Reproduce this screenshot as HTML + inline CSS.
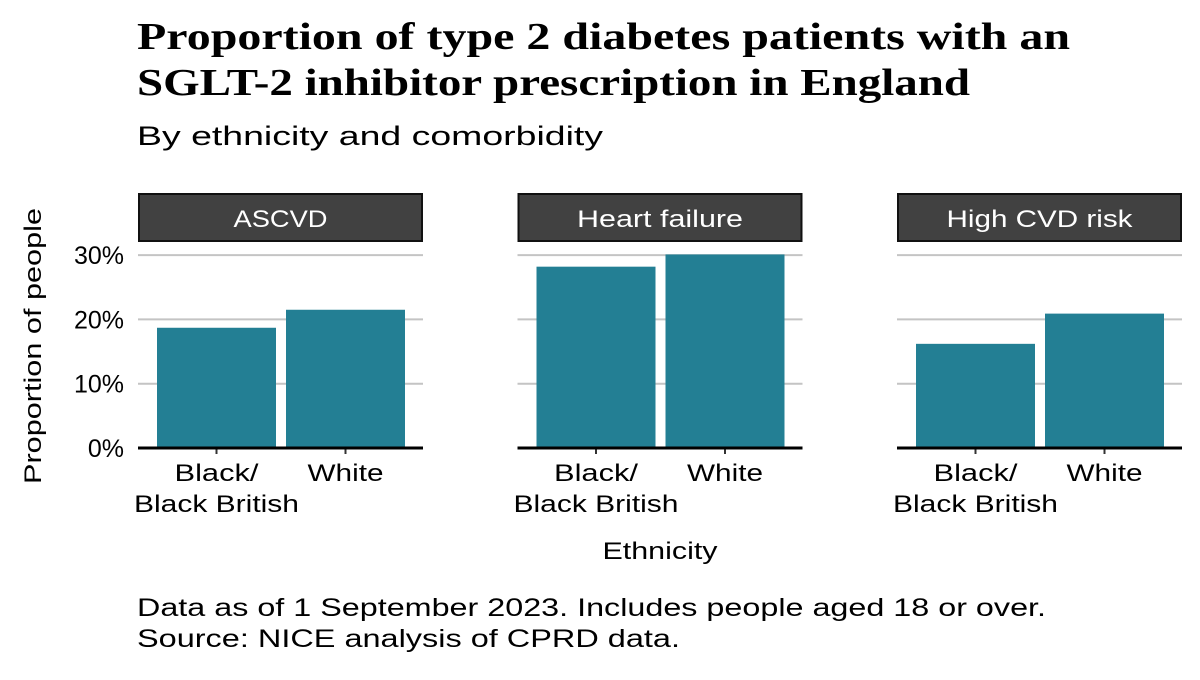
<!DOCTYPE html>
<html><head><meta charset="utf-8"><style>
body{margin:0;background:#fff;width:1200px;height:675px;overflow:hidden}
svg text{font-family:"Liberation Sans",sans-serif}
</style></head><body>
<svg width="1200" height="675">
<text x="137" y="49" font-weight="bold" font-size="38" textLength="933" lengthAdjust="spacingAndGlyphs" style="font-family:'Liberation Serif',serif">Proportion of type 2 diabetes patients with an</text>
<text x="137" y="95" font-weight="bold" font-size="38" textLength="833" lengthAdjust="spacingAndGlyphs" style="font-family:'Liberation Serif',serif">SGLT-2 inhibitor prescription in England</text>
<text x="137" y="145" font-size="27" textLength="466" lengthAdjust="spacingAndGlyphs">By ethnicity and comorbidity</text>
<text transform="translate(41,346) rotate(-90)" text-anchor="middle" font-size="24" textLength="276" lengthAdjust="spacingAndGlyphs">Proportion of people</text>
<text x="660" y="559" text-anchor="middle" font-size="24" textLength="115" lengthAdjust="spacingAndGlyphs">Ethnicity</text>
<text x="137" y="616" font-size="25" textLength="909" lengthAdjust="spacingAndGlyphs">Data as of 1 September 2023. Includes people aged 18 or over.</text>
<text x="137" y="647" font-size="25" textLength="543" lengthAdjust="spacingAndGlyphs">Source: NICE analysis of CPRD data.</text>
<g id="plot"></g>
</svg>
<script>
const panels=["ASCVD","Heart failure","High CVD risk"];
const categories=["Black/Black British","White"];
const blackValues=[18.7,28.2,16.2];
const whiteValues=[21.5,30.1,20.9];
const yTicks=[0,10,20,30];
const stripWidths=[94,166,186];
const ns="http://www.w3.org/2000/svg";
const g=document.getElementById("plot");
const y0=448,pxPer=6.43;
const y=v=>y0-v*pxPer;
const panelX=i=>138+i*379.5;
const PW=285;
function mk(t,a,p){const e=document.createElementNS(ns,t);for(const k in a)e.setAttribute(k,a[k]);(p||g).appendChild(e);return e;}
panels.forEach((name,i)=>{
  const px=panelX(i);
  const pg=mk("g",{});
  
  
  const s=mk("rect",{x:px+1,y:194,width:PW-2,height:47,fill:"#414141",stroke:"#111","stroke-width":2},pg);
  
  
  const st=mk("text",{x:px+PW/2,y:227,"text-anchor":"middle","font-size":24,fill:"#fff",textLength:stripWidths[i],lengthAdjust:"spacingAndGlyphs"},pg);st.textContent=name;
  
  
  yTicks.slice(1).forEach(t=>{
    const l=mk("line",{x1:px,x2:px+PW,y1:y(t),y2:y(t),stroke:"#c4c4c4","stroke-width":2},pg);
    
    
  });
  const vals=[blackValues[i],whiteValues[i]];
  vals.forEach((v,j)=>{
    const cx=px+78.5+j*129;
    const b=mk("rect",{x:cx-59.5,y:y(v),width:119,height:y0-y(v),fill:"#237f94"},pg);
    
    
    const tk=mk("line",{x1:cx,x2:cx,y1:y0,y2:y0+6,stroke:"#333","stroke-width":2},pg);
    
    
    const lbl=mk("text",{x:cx,"text-anchor":"middle","font-size":24},pg);
    
    
    const parts=j===0?["Black/","Black British"]:[categories[1]];
    const lens=j===0?[84,165]:[76];
    parts.forEach((p,k)=>{const ts=mk("tspan",{x:cx,y:481+k*31,textLength:lens[k],lengthAdjust:"spacingAndGlyphs"},lbl);ts.textContent=p;});
  });
  const ax=mk("line",{x1:px,x2:px+PW,y1:y0,y2:y0,stroke:"#000","stroke-width":3},pg);
  
  
});
yTicks.forEach(t=>{
  const tl=mk("text",{x:124,y:y(t)+9,"text-anchor":"end","font-size":25});
  tl.textContent=t+"%";
  
  
});
</script>
</body></html>
